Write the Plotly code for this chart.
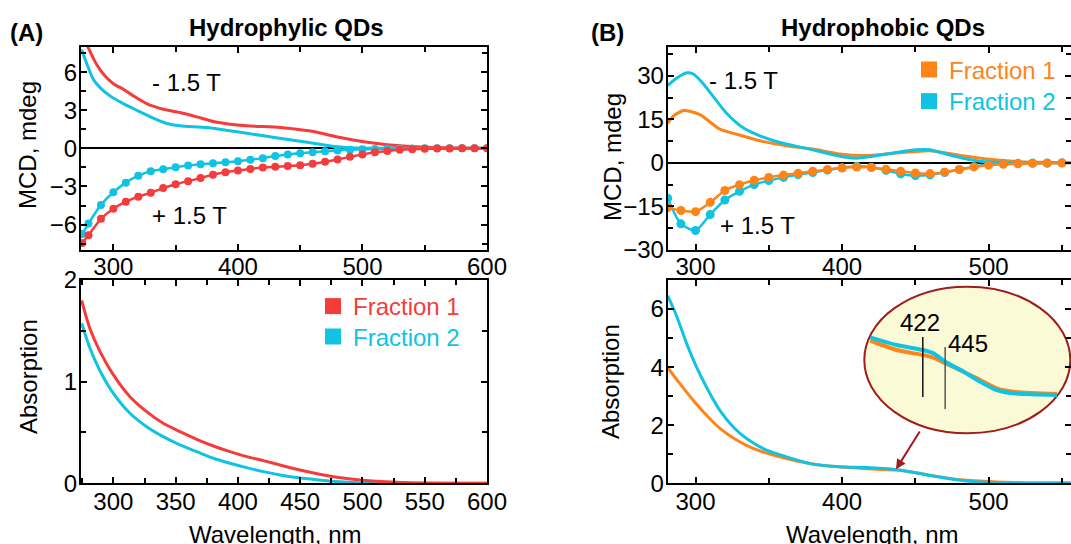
import plotly.graph_objects as go

W, H = 1071, 544
FONT = "Liberation Sans, Arial, sans-serif"
RED = "#F53C3C"
CYAN = "#10C3E3"
ORANGE = "#FF8418"

# ---------------- Panel A (hydrophylic) MCD ----------------
a_neg_wl_f1 = [274, 279.9, 286.6, 293.3, 300, 308, 316, 326.7, 340, 353.5, 366.9, 380.3, 393.6, 407, 433.8,
               447.2, 460.6, 479, 501, 520, 547, 574, 600]
a_neg_f1 = [9.3, 7.91, 6.6, 5.69, 5.09, 4.65, 4.13, 3.52, 3.08, 2.82, 2.48, 2.11, 1.9, 1.78, 1.64,
            1.51, 1.33, 0.91, 0.52, 0.29, 0.1, 0.03, 0.0]
a_neg_wl_f2 = [274.5, 279.9, 283.9, 289.3, 297.3, 308, 318.7, 332, 342.8, 353.5, 374.9, 393.6, 420.4, 447.2,
               464.6, 480, 495, 520, 560, 600]
a_neg_f2 = [7.78, 6.34, 5.43, 4.78, 4.13, 3.52, 3.0, 2.38, 1.96, 1.78, 1.64, 1.38, 0.99, 0.6,
            0.34, 0.12, 0.03, 0.0, 0.0, 0.0]

a_pos_wl = [275, 280, 290, 300, 310, 320, 330, 340, 350, 360, 370, 380, 390, 400, 410, 420, 430,
            440, 450, 460, 470, 480, 490, 500, 510, 520, 530, 540, 550, 560, 570, 580, 590, 600]
a_pos_f1 = [-7.45, -6.84, -5.55, -4.75, -4.2, -3.8, -3.5, -3.13, -2.82, -2.58, -2.34, -2.07, -1.88, -1.74,
            -1.62, -1.51, -1.45, -1.39, -1.33, -1.22, -1.06, -0.87, -0.67, -0.48, -0.31, -0.2, -0.12, -0.07,
            -0.04, -0.02, -0.01, 0.0, 0.0, 0.0]
a_pos_f2 = [-6.75, -5.92, -4.45, -3.45, -2.7, -2.15, -1.8, -1.65, -1.48, -1.35, -1.25, -1.17, -1.1, -1.01,
            -0.89, -0.77, -0.6, -0.48, -0.38, -0.3, -0.22, -0.16, -0.12, -0.08, -0.05, -0.03, -0.02, -0.01,
            0.0, 0.0, 0.0, 0.0, 0.0, 0.0]

# ---------------- Panel A absorption ----------------
a_abs_wl = [274.5, 281.2, 289.3, 300, 313.3, 326.7, 340, 353.5, 366.9, 380.3, 393.6, 407, 420.4, 433.8,
            447.2, 464.6, 478, 500, 527, 550, 600]
a_abs_f1 = [1.80, 1.52, 1.295, 1.066, 0.852, 0.705, 0.59, 0.508, 0.433, 0.367, 0.311, 0.262, 0.223, 0.18,
            0.138, 0.092, 0.062, 0.03, 0.01, 0.002, 0.0]
a_abs_f2 = [1.574, 1.328, 1.105, 0.885, 0.689, 0.557, 0.459, 0.377, 0.311, 0.246, 0.197, 0.154, 0.115, 0.082,
            0.056, 0.033, 0.018, 0.004, 0.0, 0.0, 0.0]

# ---------------- Panel B (hydrophobic) MCD ----------------
b_neg_wl_f1 = [281, 284.8, 291.6, 296, 303, 307.5, 316.6, 328, 344, 362, 380, 398.4, 414, 430, 448, 459.8,
               471, 484.8, 498.4, 516.6, 534.8, 556]
b_neg_f1 = [13.6, 16.1, 18.0, 17.8, 16.6, 15.0, 11.6, 9.85, 7.6, 5.9, 4.75, 3.06, 2.5, 3.06, 3.85, 4.2,
            3.4, 2.26, 1.36, 0.57, 0.23, 0.0]
b_neg_wl_f2 = [281, 287, 294, 298.4, 305, 312, 321, 332.5, 344, 357.5, 375.7, 391.6, 403, 410, 421, 437,
               450.7, 459.8, 471, 482.5, 494, 503, 516.6, 556]
b_neg_f2 = [26.6, 29.1, 31.0, 30.6, 27.4, 22.9, 17.2, 12.1, 9.3, 7.0, 5.0, 3.06, 1.9, 1.6, 2.3, 3.6,
            4.5, 4.5, 3.06, 1.6, 0.57, 0.2, 0.0, 0.0]

b_pos_wl = [281, 290, 300, 310, 320, 330, 340, 350, 360, 370, 380, 390, 400, 410, 420, 430, 440, 450,
            460, 470, 480, 490, 500, 510, 520, 530, 540, 550]
b_pos_f1 = [-15.4, -16.4, -16.8, -13.6, -9.5, -7.5, -6.0, -5.0, -4.2, -3.6, -2.9, -2.3, -1.8, -1.45,
            -1.6, -2.2, -2.9, -3.5, -3.7, -3.2, -2.3, -1.4, -0.8, -0.5, -0.3, -0.18, -0.1, -0.05]
b_pos_f2 = [-12.2, -21.0, -23.3, -17.8, -12.8, -9.8, -7.5, -6.1, -5.0, -4.0, -3.3, -2.5, -1.7, -1.2,
            -1.5, -2.6, -3.8, -4.4, -4.1, -3.3, -2.3, -1.3, -0.6, -0.3, -0.15, -0.08, -0.04, 0.0]

# ---------------- Panel B absorption ----------------
b_abs_wl_f1 = [281, 289.3, 298.4, 307.5, 316.6, 328, 339.3, 353, 369, 384.8, 403, 421, 437, 448.4, 462,
               475.7, 494, 516.6, 539.3, 556]
b_abs_f1 = [3.98, 3.43, 2.86, 2.34, 1.89, 1.49, 1.2, 0.97, 0.77, 0.63, 0.55, 0.49, 0.46, 0.38, 0.26,
            0.15, 0.08, 0.03, 0.02, 0.02]
b_abs_wl_f2 = [281, 287, 294, 300.7, 307.5, 316.6, 325.7, 334.8, 348.4, 362, 380, 398.4, 416.6, 434.8,
               448.4, 462, 475.7, 489.3, 505, 516.6, 556]
b_abs_f2 = [6.46, 5.77, 4.8, 4.0, 3.31, 2.51, 1.94, 1.54, 1.14, 0.91, 0.66, 0.57, 0.54, 0.48, 0.38, 0.25,
            0.14, 0.06, 0.02, 0.0, 0.0]

# ---------------- Inset (zoomed absorption) ----------------
inset_wl = [368, 395, 422, 433, 445, 464, 481, 498, 515, 560]
inset_f1 = [0.593, 0.50, 0.45, 0.423, 0.367, 0.283, 0.20, 0.117, 0.083, 0.06]
inset_f2 = [0.627, 0.55, 0.50, 0.467, 0.383, 0.283, 0.183, 0.10, 0.067, 0.05]
peak_labels = ["422", "445"]
peak_wl = [422, 445]
peak_top = [0.63, 0.53]
peak_bottom = [0.03, -0.09]

fig = go.Figure()


def px_x(p):
    return p / W


def px_y(p):
    return 1 - p / H


def line(x, y, color, xa, ya, width=3, markers=False, msize=9):
    fig.add_trace(go.Scatter(
        x=x, y=y, xaxis=xa, yaxis=ya, showlegend=False,
        mode="lines+markers" if markers else "lines",
        line=dict(color=color, width=width, shape="spline", smoothing=0.7),
        marker=dict(color=color, size=msize) if markers else None,
        hoverinfo="skip"))


# Panel A top
line(a_neg_wl_f2, a_neg_f2, CYAN, "x", "y")
line(a_neg_wl_f1, a_neg_f1, RED, "x", "y")
line(a_pos_wl, a_pos_f2, CYAN, "x", "y", width=2.5, markers=True, msize=8)
line(a_pos_wl, a_pos_f1, RED, "x", "y", width=2.5, markers=True, msize=8)
# Panel A bottom
line(a_abs_wl, a_abs_f2, CYAN, "x2", "y2")
line(a_abs_wl, a_abs_f1, RED, "x2", "y2")
# Panel B top
line(b_neg_wl_f1, b_neg_f1, ORANGE, "x3", "y3")
line(b_neg_wl_f2, b_neg_f2, CYAN, "x3", "y3")
line(b_pos_wl, b_pos_f2, CYAN, "x3", "y3", width=2.5, markers=True, msize=9)
line(b_pos_wl, b_pos_f1, ORANGE, "x3", "y3", width=2.5, markers=True, msize=9)
# Panel B bottom
line(b_abs_wl_f1, b_abs_f1, ORANGE, "x4", "y4")
line(b_abs_wl_f2, b_abs_f2, CYAN, "x4", "y4")
# Inset
line(inset_wl, inset_f1, ORANGE, "x5", "y5", width=4)
line(inset_wl, inset_f2, CYAN, "x5", "y5", width=4)
for i, wl in enumerate(peak_wl):
    fig.add_trace(go.Scatter(x=[wl, wl], y=[peak_top[i], peak_bottom[i]], xaxis="x5", yaxis="y5",
                             mode="lines", line=dict(color="#111111" if i == 0 else "#555555", width=1.5),
                             showlegend=False, hoverinfo="skip"))

# Legend entries (one legend per row for exact placement)
legend_rows = [("Fraction 1", RED, "legend", 313, 306.5), ("Fraction 2", CYAN, "legend2", 313, 337),
               ("Fraction 1", ORANGE, "legend3", 909, 70), ("Fraction 2", CYAN, "legend4", 909, 101.5)]
for name, color, leg, lx, ly in legend_rows:
    fig.add_trace(go.Scatter(x=[None], y=[None], mode="markers", xaxis="x2", yaxis="y2",
                             marker=dict(symbol="square", size=16, color=color),
                             name=f"<span style='color:{color}'>{name}</span>", legend=leg, showlegend=True))

tickfont = dict(family=FONT, size=24, color="black")


def ax(domain, rng, dtick, minor, zeroline=False, anchor=None, standoff=0):
    d = dict(domain=domain, range=rng, dtick=dtick, tick0=0, showgrid=False,
             showline=True, linecolor="black", linewidth=2, mirror="ticks",
             ticks="inside", ticklen=6, tickwidth=2, tickcolor="black",
             minor=dict(dtick=minor, tick0=0, ticks="inside", ticklen=5, tickwidth=2, tickcolor="black",
                        showgrid=False),
             tickfont=tickfont, zeroline=zeroline, zerolinecolor="black", zerolinewidth=2,
             automargin=False, fixedrange=True, ticklabelstandoff=standoff)
    if anchor:
        d["anchor"] = anchor
    return d


xa_dom = [px_x(81), px_x(487)]
xb_dom = [px_x(667.7), 1.0]
ytop_dom = [px_y(250), px_y(46.7)]
ybot_dom = [px_y(483.3), px_y(280)]

legends = {}
for name, color, leg, lx, ly in legend_rows:
    legends[leg] = dict(x=px_x(lx), y=px_y(ly), xanchor="left", yanchor="middle", bgcolor="rgba(0,0,0,0)",
                        font=dict(family=FONT, size=24), itemwidth=30)

fig.update_layout(
    width=W, height=H, margin=dict(l=0, r=0, t=0, b=0),
    paper_bgcolor="white", plot_bgcolor="rgba(0,0,0,0)",
    font=dict(family=FONT, size=24, color="black"),
    xaxis=ax(xa_dom, [274, 600], 100, 50, anchor="y", standoff=-6),
    yaxis=ax(ytop_dom, [-8, 8], 3, 1.5, zeroline=True, anchor="x", standoff=-3),
    xaxis2=ax(xa_dom, [274, 600], 50, 25, anchor="y2", standoff=-4),
    yaxis2=ax(ybot_dom, [0, 2], 1, 0.5, anchor="x2", standoff=-3),
    xaxis3=ax(xb_dom, [281, 556.2], 100, 50, anchor="y3", standoff=-6),
    yaxis3=ax(ytop_dom, [-30, 40], 15, 7.5, zeroline=True, anchor="x3", standoff=-3),
    xaxis4=ax(xb_dom, [281, 556.2], 100, 50, anchor="y4", standoff=-4),
    yaxis4=ax(ybot_dom, [0, 7], 2, 1, anchor="x4", standoff=-3),
    xaxis5=dict(domain=[px_x(870), px_x(1057)], range=[367.7, 560], visible=False, anchor="y5", fixedrange=True),
    yaxis5=dict(domain=[px_y(420), px_y(320)], range=[-0.2, 0.8], visible=False, anchor="x5", fixedrange=True),
    showlegend=True,
    **legends,
)

# Inset ellipse and arrow
fig.add_shape(type="circle", xref="paper", yref="paper",
              x0=px_x(864.3), x1=px_x(1070.3), y0=px_y(433.3), y1=px_y(286.7),
              fillcolor="#FAFAD6", line=dict(color="#A01C1C", width=2), layer="below")
fig.add_annotation(xref="paper", yref="paper", x=px_x(896), y=px_y(469.3), ax=24.7, ay=-39.3,
                   text="", showarrow=True, arrowhead=2, arrowsize=1, arrowwidth=2, arrowcolor="#A01C1C")

# Peak labels in inset
fig.add_annotation(xref="x5", yref="y5", x=419, y=0.78, text=peak_labels[0], showarrow=False,
                   font=dict(family=FONT, size=24, color="black"))
fig.add_annotation(xref="x5", yref="y5", x=468, y=0.57, text=peak_labels[1], showarrow=False,
                   font=dict(family=FONT, size=24, color="black"))

# Field labels
for xr, yr, x, y, t in [("x", "y", 359, 5.2, "- 1.5 T"), ("x", "y", 361, -5.3, "+ 1.5 T"),
                        ("x3", "y3", 333, 28.3, "- 1.5 T"), ("x3", "y3", 342, -21.7, "+ 1.5 T")]:
    fig.add_annotation(xref=xr, yref=yr, x=x, y=y, text=t, showarrow=False,
                       font=dict(family=FONT, size=24, color="black"))

# Titles, panel letters, axis titles
texts = [
    (286.7, 27, "<b>Hydrophylic QDs</b>", 0),
    (883, 27, "<b>Hydrophobic QDs</b>", 0),
    (26, 32, "<b>(A)</b>", 0),
    (607, 32, "<b>(B)</b>", 0),
    (27, 145, "MCD, mdeg", -90),
    (28, 377, "Absorption", -90),
    (612, 157, "MCD, mdeg", -90),
    (610, 382, "Absorption", -90),
    (275, 534, "Wavelength, nm", 0),
    (872, 534, "Wavelength, nm", 0),
]
for x, y, t, ang in texts:
    fig.add_annotation(xref="paper", yref="paper", x=px_x(x), y=px_y(y), text=t, showarrow=False,
                       textangle=ang, xanchor="center", yanchor="middle",
                       font=dict(family=FONT, size=24, color="black"))

fig.write_html("out.html", config={"displayModeBar": False},
               post_script="document.body.style.margin='0';document.body.style.overflow='hidden';")
